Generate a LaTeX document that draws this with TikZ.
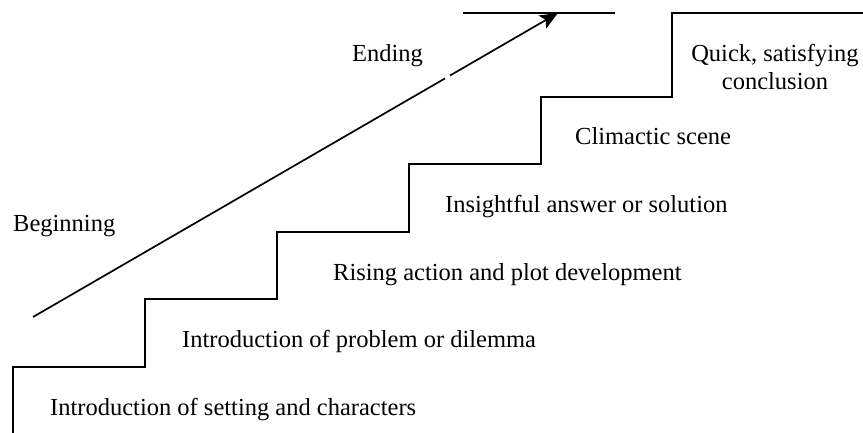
\documentclass[tikz,border=0pt]{standalone}
\usepackage{fontspec}
\setmainfont{Liberation Serif}
\usetikzlibrary{arrows.meta,calc}
\begin{document}
\begin{tikzpicture}[x=1pt,y=-1pt,
  line/.style={line width=1.7pt, black},
  lbl/.style={inner sep=0pt, anchor=base west, font=\fontsize{24.5}{28}\selectfont},
]
\useasboundingbox (0,0) rectangle (863,433);
% staircase
\draw[line, line join=miter] (13,433) -- (13,367) -- (145,367) -- (145,299) -- (277,299) -- (277,232)
  -- (409,232) -- (409,164) -- (541,164) -- (541,97) -- (672,97) -- (672,13) -- (863,13);
% top line
\coordinate (t0) at (463,13);
\coordinate (t1) at (615,13);
\draw[line] (t0) -- (t1);
% arrow
\coordinate (a0) at (33,317);
\coordinate (a1) at (558,13);
\draw[line, -{Stealth[length=18pt,width=15pt,inset=4pt]}] (a0) -- (a1);
\draw[white, line width=3.5pt] ($(a0)!0.785!(a1)$) -- ($(a0)!0.794!(a1)$);
% labels
\node[lbl] (beg) at (13,232) {Beginning};
\node[lbl] (end) at (352,62) {Ending};
\node[lbl] (s1) at (50,415) {Introduction of setting and characters};
\node[lbl] (s2) at (182,347) {Introduction of problem or dilemma};
\node[lbl] (s3) at (333,280) {Rising action and plot development};
\node[lbl] (s4) at (445,213) {Insightful answer or solution};
\node[lbl] (s5) at (575,145) {Climactic scene};
\node[lbl, anchor=south, align=center] (s6) at (775,90.3) {Quick, satisfying\\conclusion};
\end{tikzpicture}
\end{document}
